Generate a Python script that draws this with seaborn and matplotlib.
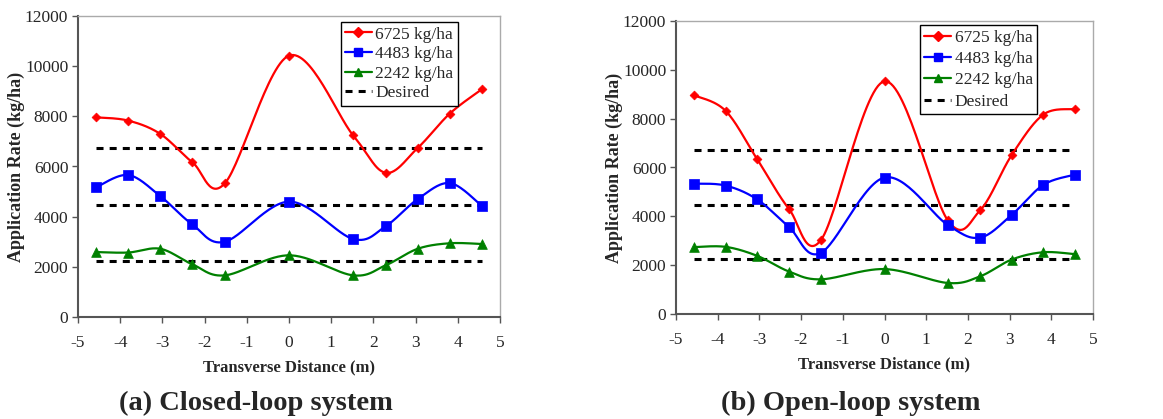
import numpy as np
import pandas as pd
import matplotlib
matplotlib.use("Agg")
import matplotlib.pyplot as plt
import seaborn as sns
from matplotlib.lines import Line2D

# ---------------- data ----------------
distance_m = [-4.57, -3.81, -3.05, -2.29, -1.52, 0.0, 1.52, 2.29, 3.05, 3.81, 4.57]
series_names = ["6725 kg/ha", "4483 kg/ha", "2242 kg/ha"]
desired_rates = [6725, 4483, 2242]

closed_6725 = [7960, 7830, 7300, 6170, 5330, 10420, 7240, 5750, 6740, 8110, 9080]
closed_4483 = [5170, 5660, 4820, 3690, 3000, 4600, 3110, 3620, 4700, 5340, 4430]
closed_2242 = [2590, 2570, 2720, 2100, 1660, 2460, 1660, 2060, 2720, 2940, 2910]

open_6725 = [8960, 8320, 6330, 4300, 3040, 9530, 3830, 4240, 6510, 8170, 8390]
open_4483 = [5340, 5260, 4690, 3560, 2510, 5590, 3640, 3130, 4060, 5290, 5710]
open_2242 = [2740, 2750, 2380, 1740, 1420, 1840, 1270, 1540, 2230, 2530, 2450]

panel_titles = ["(a) Closed-loop system", "(b) Open-loop system"]
x_label = "Transverse Distance (m)"
y_label = "Application Rate (kg/ha)"
x_ticks = [-5, -4, -3, -2, -1, 0, 1, 2, 3, 4, 5]
y_ticks = [0, 2000, 4000, 6000, 8000, 10000, 12000]

colors = ["#FF0000", "#0000FF", "#008000"]
markers = ["D", "s", "^"]
marker_sizes = [4.5, 7, 7]
DASH = (0, (2.3, 2.0))


def smooth_curve(xs, ys, n=30):
    """Excel-style smoothed line (Catmull-Rom Bezier) through the data points."""
    P = np.column_stack([xs, ys]).astype(float)
    out = []
    m = len(P)
    for i in range(m - 1):
        p0 = P[i - 1] if i > 0 else P[i]
        p1 = P[i]
        p2 = P[i + 1]
        p3 = P[i + 2] if i + 2 < m else P[i + 1]
        c1 = p1 + (p2 - p0) / 6.0
        c2 = p2 - (p3 - p1) / 6.0
        t = np.linspace(0, 1, n, endpoint=(i == m - 2))[:, None]
        seg = ((1 - t) ** 3) * p1 + 3 * ((1 - t) ** 2) * t * c1 + 3 * (1 - t) * t ** 2 * c2 + t ** 3 * p2
        out.append(seg)
    out = np.vstack(out)
    return out[:, 0], out[:, 1]


sns.set_style("white")
plt.rcParams["font.family"] = ["Liberation Serif", "DejaVu Serif"]

fig = plt.figure(figsize=(11.63, 4.19), dpi=100)
axes_pos = [
    [78 / 1163, 1 - 317 / 419, (500 - 78) / 1163, (317 - 16) / 419],
    [676 / 1163, 1 - 314 / 419, (1093 - 676) / 1163, (314 - 21) / 419],
]
legend_anchor = [(0.900, 0.980), (0.866, 0.986)]
legend_spacing = [0.2, 0.3]
title_x = [256 / 1163, 851 / 1163]
panels = [
    [closed_6725, closed_4483, closed_2242],
    [open_6725, open_4483, open_2242],
]

for k, (pos, data) in enumerate(zip(axes_pos, panels)):
    ax = fig.add_axes(pos)
    # desired lines
    for d in desired_rates:
        df_d = pd.DataFrame({"x": [distance_m[0], distance_m[-1]], "y": [d, d]})
        sns.lineplot(data=df_d, x="x", y="y", ax=ax, color="black", lw=2.2,
                     linestyle=DASH, zorder=2)
    for vals, c, mk, ms in zip(data, colors, markers, marker_sizes):
        sx, sy = smooth_curve(distance_m, vals)
        ax.plot(sx, sy, color=c, lw=1.6, zorder=3)
        df_p = pd.DataFrame({"x": distance_m, "y": vals})
        sns.scatterplot(data=df_p, x="x", y="y", ax=ax, color=c, marker=mk,
                        s=ms ** 2, edgecolor=c, linewidth=0.5, zorder=4)

    ax.set_xlim(-5, 5)
    ax.set_ylim(0, 12000)
    ax.set_xticks(x_ticks)
    ax.set_yticks(y_ticks)
    ax.set_xticklabels([str(t) for t in x_ticks])
    ax.set_yticklabels([str(t) for t in y_ticks])
    ax.tick_params(axis="both", labelsize=12.5, direction="out", length=4, width=1,
                   color="#555555", pad=3, left=True, bottom=True)
    ax.tick_params(axis="x", pad=9)
    for s in ["left", "bottom"]:
        ax.spines[s].set_color("#555555")
        ax.spines[s].set_linewidth(1.5)
    for s in ["top", "right"]:
        ax.spines[s].set_color("#aaaaaa")
        ax.spines[s].set_linewidth(1.0)
    ax.set_xlabel(x_label, fontsize=12, fontweight="bold", labelpad=6)
    ax.set_ylabel(y_label, fontsize=13, fontweight="bold", labelpad=0)
    ax.grid(False)

    handles = [Line2D([0], [0], color=c, lw=1.6, marker=mk, markersize=ms * (0.9 if mk != "D" else 1.1))
               for c, mk, ms in zip(colors, markers, marker_sizes)]
    handles.append(Line2D([0], [0], color="black", lw=2.2, linestyle=DASH))
    leg = ax.legend(handles, series_names + ["Desired"], loc="upper right",
                    bbox_to_anchor=legend_anchor[k], fontsize=12.5, frameon=True,
                    fancybox=False, edgecolor="black", framealpha=1,
                    handlelength=1.55, handletextpad=0.2, labelspacing=legend_spacing[k],
                    borderpad=0.25, borderaxespad=0.0)
    leg.get_frame().set_linewidth(1.0)

    fig.text(title_x[k], 1 - 403 / 419, panel_titles[k], ha="center", va="center",
             fontsize=20.5, fontweight="bold")

fig.savefig("out.png", dpi=100)
